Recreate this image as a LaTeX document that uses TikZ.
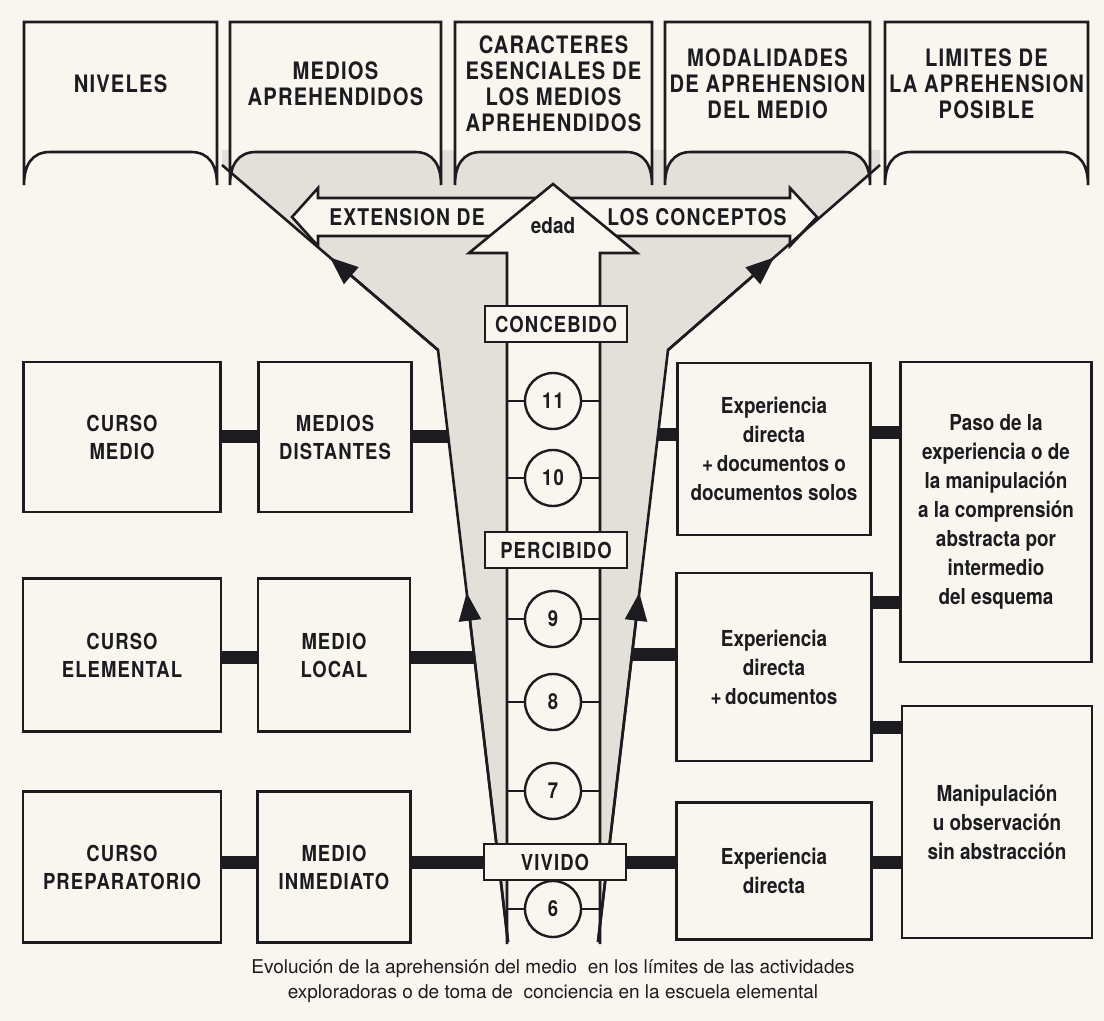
\documentclass[tikz,border=0pt]{standalone}
\usepackage{fontspec}
\setmainfont{TeX Gyre Heros}
\newfontfamily\capsfont[FakeStretch=0.84,LetterSpace=5]{TeX Gyre Heros}
\newfontfamily\lowfont[FakeStretch=0.86]{TeX Gyre Heros}
\usetikzlibrary{calc,arrows.meta}
\definecolor{paper}{RGB}{248,246,238}
\definecolor{funnelgray}{RGB}{226,224,216}
\definecolor{ink}{RGB}{28,28,32}
% header banner: name, left x, right x, text
\newcommand{\banner}[4]{\draw[ink,line width=1.3pt,fill=paper] (#2,185) -- (#2,22) -- (#3,22) -- (#3,185) .. controls ({#3},165) and ({#3-8},152) .. ({#3-26},152) -- ({#2+26},152) .. controls ({#2+8},152) and ({#2},165) .. (#2,185) -- cycle;
  \node[headtxt] (#1) at ({(#2+#3)/2},84) {#4};}
% age circle on the shaft: name, y, number
\newcommand{\numcirc}[3]{\node[num] (#1) at (553,#2) {#3};
  \draw[spoke] (#1.west) -- (#1.west -| shaftL);
  \draw[spoke] (#1.east) -- (#1.east -| shaftR);}

\begin{document}
\begin{tikzpicture}[x=0.5pt, y=-0.5pt, ink,
    headtxt/.style={font={\capsfont\bfseries\fontsize{12}{13}\selectfont}, align=center},
    capbox/.style={draw, line width=1.3pt, fill=paper, align=center, inner sep=0pt,
      font={\capsfont\bfseries\fontsize{11}{14}\selectfont}},
    lowbox/.style={draw, line width=1.3pt, fill=paper, align=center, inner sep=0pt,
      font={\lowfont\bfseries\fontsize{11}{14.5}\selectfont}},
    stage/.style={draw, line width=1.3pt, fill=paper, minimum width=71pt, minimum height=18pt,
      inner sep=0pt, font={\capsfont\bfseries\fontsize{11}{13}\selectfont}},
    num/.style={circle, draw, line width=1.2pt, fill=paper, minimum size=28pt, inner sep=0pt,
      font={\capsfont\bfseries\fontsize{11}{13}\selectfont}},
    spoke/.style={line width=1pt},
    link/.style={line width=6.5pt},
    funnel/.style={line width=1.3pt},
    tip/.style={-{Triangle[length=14pt,width=11pt]}}]
  \useasboundingbox[fill=paper] (0,0) rectangle (1104,1021);

  % funnel points
  \coordinate (ltop) at (222,165);
  \coordinate (lbend) at (438,350);
  \coordinate (lbot) at (508,942);
  \coordinate (rtop) at (880,165);
  \coordinate (rbend) at (668,350);
  \coordinate (rbot) at (598,942);
  \coordinate (shaftL) at (507,0);
  \coordinate (shaftR) at (600,0);

  % shaded funnel
  \fill[funnelgray] (ltop) -- (lbend) -- (lbot) -- (rbot) -- (rbend) -- (rtop) -- (880,150) -- (222,150) -- cycle;

  % extension arrow
  \draw[line width=1.3pt, fill=paper] (292,217) -- (318,188) -- (318,198) -- (790,198) -- (790,188)
    -- (817,217) -- (790,246) -- (790,236) -- (318,236) -- (318,246) -- cycle;
  \node[font={\capsfont\bfseries\fontsize{11.5}{13}\selectfont}] (ext) at (407,217) {EXTENSION DE};
  \node[font={\capsfont\bfseries\fontsize{11.5}{13}\selectfont}] (concepts) at (697,217) {LOS CONCEPTOS};

  % age arrow
  \fill[paper] (507,944) -- (507,253) -- (469,253) -- (553,184) -- (637,253) -- (600,253) -- (600,944) -- cycle;
  \draw[line width=1.3pt] (507,944) -- (507,253) -- (469,253) -- (553,184) -- (637,253) -- (600,253) -- (600,944);
  \node[font={\lowfont\bfseries\fontsize{11}{13}\selectfont}] (edad) at (553,226) {edad};

  % funnel lines
  \draw[funnel] (lbot) -- (lbend) -- (ltop);
  \draw[funnel] (rbot) -- (rbend) -- (rtop);
  \draw[funnel,tip] (lbot) -- ($(lbot)!0.59!(lbend)$);
  \draw[funnel,tip] (lbend) -- ($(lbend)!0.5!(ltop)$);
  \draw[funnel,tip] (rbot) -- ($(rbot)!0.59!(rbend)$);
  \draw[funnel,tip] (rbend) -- ($(rbend)!0.5!(rtop)$);

  % ages
  \numcirc{c11}{401}{11}
  \numcirc{c10}{478}{10}
  \numcirc{c9}{619}{9}
  \numcirc{c8}{702}{8}
  \numcirc{c7}{791}{7}
  \numcirc{c6}{909}{6}

  % stages
  \node[stage] (concebido) at (556,324) {CONCEBIDO};
  \node[stage] (percibido) at (556,550) {PERCIBIDO};
  \node[stage] (vivido) at (555,862) {VIVIDO};

  % headers
  \banner{hniv}{24}{217}{NIVELES}
  \banner{hmed}{230}{441}{MEDIOS\\APREHENDIDOS}
  \banner{hcar}{455}{652}{CARACTERES\\ESENCIALES DE\\LOS MEDIOS\\APREHENDIDOS}
  \banner{hmod}{665}{870}{MODALIDADES\\DE APREHENSION\\DEL MEDIO}
  \banner{hlim}{885}{1088}{LIMITES DE\\LA APREHENSION\\POSIBLE}

  % left column
  \node[capbox, minimum width=98.5pt, minimum height=75pt] (nivel1) at (122,437) {CURSO\\MEDIO};
  \node[capbox, minimum width=99pt, minimum height=76.5pt] (nivel2) at (122,655) {CURSO\\ELEMENTAL};
  \node[capbox, minimum width=99pt, minimum height=75.5pt] (nivel3) at (122,867) {CURSO\\PREPARATORIO};
  \node[capbox, minimum width=76.5pt, minimum height=75pt] (medio1) at (335,437) {MEDIOS\\DISTANTES};
  \node[capbox, minimum width=76pt, minimum height=76.5pt] (medio2) at (334,655) {MEDIO\\LOCAL};
  \node[capbox, minimum width=76.5pt, minimum height=75.5pt] (medio3) at (334,867) {MEDIO\\INMEDIATO};

  % right column
  \node[lowbox, minimum width=96.5pt, minimum height=86pt] (modo1) at (774,449) {Experiencia\\directa\\+\,documentos o\\documentos solos};
  \node[lowbox, minimum width=97.5pt, minimum height=94pt] (modo2) at (774,667) {Experiencia\\directa\\+\,documentos};
  \node[lowbox, minimum width=97.5pt, minimum height=68.5pt] (modo3) at (774,871) {Experiencia\\directa};
  \node[lowbox, minimum width=95.5pt, minimum height=150pt] (limite1) at (996,512) {Paso de la\\experiencia o de\\la manipulación\\a la comprensión\\abstracta por\\intermedio\\del esquema};
  \node[lowbox, minimum width=95pt, minimum height=116pt] (limite2) at (997,822) {Manipulación\\u observación\\sin abstracción};

  % links
  \coordinate (lrow1) at (448,437);
  \coordinate (lrow2) at (474,658);
  \coordinate (rrow1) at (658,435);
  \coordinate (rrow2) at (632,655);
  \coordinate (j1) at (871,603);
  \coordinate (j2) at (871,727);
  \draw[link] (nivel1) -- (medio1);
  \draw[link] (medio1) -- (lrow1);
  \draw[link] (nivel2.east |- lrow2) -- (medio2.west |- lrow2);
  \draw[link] (medio2.east |- lrow2) -- (lrow2);
  \draw[link] (nivel3.east |- vivido) -- (medio3.west |- vivido);
  \draw[link] (medio3.east |- vivido) -- (vivido.west);
  \draw[link] (rrow1) -- (modo1.west |- rrow1);
  \draw[link] (modo1.east |- 0,433) -- (limite1.west |- 0,433);
  \draw[link] (rrow2) -- (modo2.west |- rrow2);
  \draw[link] (j1) -- (j1 -| limite1.west);
  \draw[link] (j2) -- (j2 -| limite2.west);
  \draw[link] (vivido.east) -- (modo3.west |- vivido);
  \draw[link] (modo3.east |- vivido) -- (limite2.west |- vivido);

  % caption
  \node[align=center, font={\fontsize{9.5}{12.5}\selectfont}] (caption) at (553,981)
    {Evolución de la aprehensión del medio\ \ en los límites de las actividades\\
     exploradoras o de toma de\ \ conciencia en la escuela elemental};
\end{tikzpicture}
\end{document}
